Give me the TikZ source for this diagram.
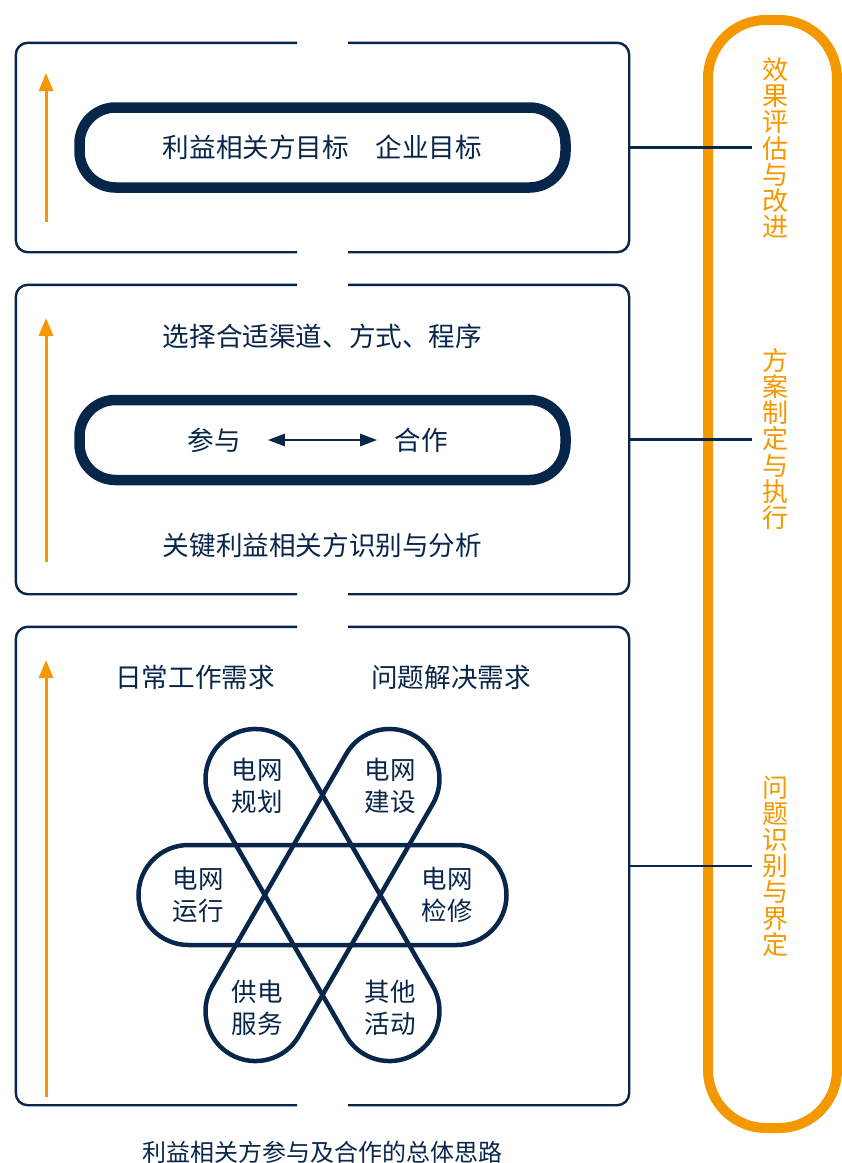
\documentclass[tikz,border=0pt]{standalone}
\usepackage{fontspec}
\setmainfont{Noto Sans CJK SC}
\usetikzlibrary{arrows.meta}
\definecolor{navy}{RGB}{8,37,74}
\definecolor{org}{RGB}{243,152,0}
\begin{document}
\begin{tikzpicture}[x=1pt,y=-1pt,
  txt/.style={text=navy, font=\fontsize{26.6}{32}\selectfont, inner sep=0pt},
  frame/.style={draw=none, minimum width=613pt, inner sep=0pt},
  outline/.style={draw=navy, line width=2.4pt, rounded corners=12pt},
  pill/.style={draw=navy, line width=10.5pt, rounded corners=36pt, minimum width=486pt, minimum height=80pt, text=navy, font=\fontsize{26.6}{32}\selectfont},
  petal/.style={draw=navy, line width=4.5pt, rounded corners=50pt, minimum width=368pt, minimum height=100pt},
  plabel/.style={text=navy, font=\fontsize{25.5}{32}\selectfont, align=center, inner sep=0pt},
  uparrow/.style={draw=org, line width=3pt, -{Triangle[length=18pt,width=14pt]}},
  link/.style={draw=navy, line width=2.4pt},
  side/.style={text=org, font=\fontsize{26}{26.2}\selectfont, align=center, inner sep=0pt}
]
\useasboundingbox (0,0) rectangle (842,1163);

% orange loop
\node[draw=org, line width=10pt, rounded corners=58pt, minimum width=129pt, minimum height=1108pt] (loop) at (772.5,574) {};
\node[side] (s1) at (775,148) {效\\果\\评\\估\\与\\改\\进};
\node[side] (s2) at (775,439) {方\\案\\制\\定\\与\\执\\行};
\node[side] (s3) at (775,866) {问\\题\\识\\别\\与\\界\\定};

% frames
\node[frame, minimum height=209pt] (box1) at (322.5,147.5) {};
\node[frame, minimum height=309pt] (box2) at (322.5,439.5) {};
\node[frame, minimum height=478pt] (box3) at (322.5,866) {};
\foreach \b in {box1,box2,box3}{
  \draw[outline] ([xshift=25.5pt]\b.north) -- (\b.north east) -- (\b.south east) -- ([xshift=25.5pt]\b.south);
  \draw[outline] ([xshift=-25.5pt]\b.south) -- (\b.south west) -- (\b.north west) -- ([xshift=-25.5pt]\b.north);
}

% links
\draw[link, shorten >=10pt] (box1.east) -- (box1.east -| s1.west);
\draw[link, shorten >=10pt] (box2.east) -- (box2.east -| s2.west);
\draw[link, shorten >=10pt] (box3.east) -- (box3.east -| s3.west);

% orange arrows
\coordinate (a1s) at (46,222); \coordinate (a1e) at (46,73);
\coordinate (a2s) at (46,562); \coordinate (a2e) at (46,318);
\coordinate (a3s) at (46,1097); \coordinate (a3e) at (46,660);
\draw[uparrow] (a1s) -- (a1e);
\draw[uparrow] (a2s) -- (a2e);
\draw[uparrow] (a3s) -- (a3e);

% box 1
\node[pill] (goal) at (322.5,147.5) {利益相关方目标　企业目标};

% box 2
\node[txt] (ch) at (322.5,336) {选择合适渠道、方式、程序};
\node[pill] (pc) at (322.5,440) {};
\node[txt] (cy) at (214,440) {参与};
\node[txt] (hz) at (421,440) {合作};
\draw[navy, line width=2.5pt, {Triangle[length=17pt,width=12pt]}-{Triangle[length=17pt,width=12pt]}, shorten <=27pt, shorten >=17pt] (cy) -- (hz);
\node[txt] (kid) at (322.5,545) {关键利益相关方识别与分析};

% box 3
\node[txt] (rc) at (195,677) {日常工作需求};
\node[txt] (wt) at (451,677) {问题解决需求};
\node[petal] (hp) at (322.5,895) {};
\node[petal, rotate=60] (rp1) at (322.5,895) {};
\node[petal, rotate=-60] (rp2) at (322.5,895) {};
\node[plabel] (l1) at (257,786) {电网\\规划};
\node[plabel] (l2) at (390,786) {电网\\建设};
\node[plabel] (l3) at (198,895) {电网\\运行};
\node[plabel] (l4) at (447,895) {电网\\检修};
\node[plabel] (l5) at (257,1008) {供电\\服务};
\node[plabel] (l6) at (390,1008) {其他\\活动};

% caption
\node[txt, font=\fontsize{24}{28}\selectfont] (cap) at (322.5,1152) {利益相关方参与及合作的总体思路};
\end{tikzpicture}
\end{document}
